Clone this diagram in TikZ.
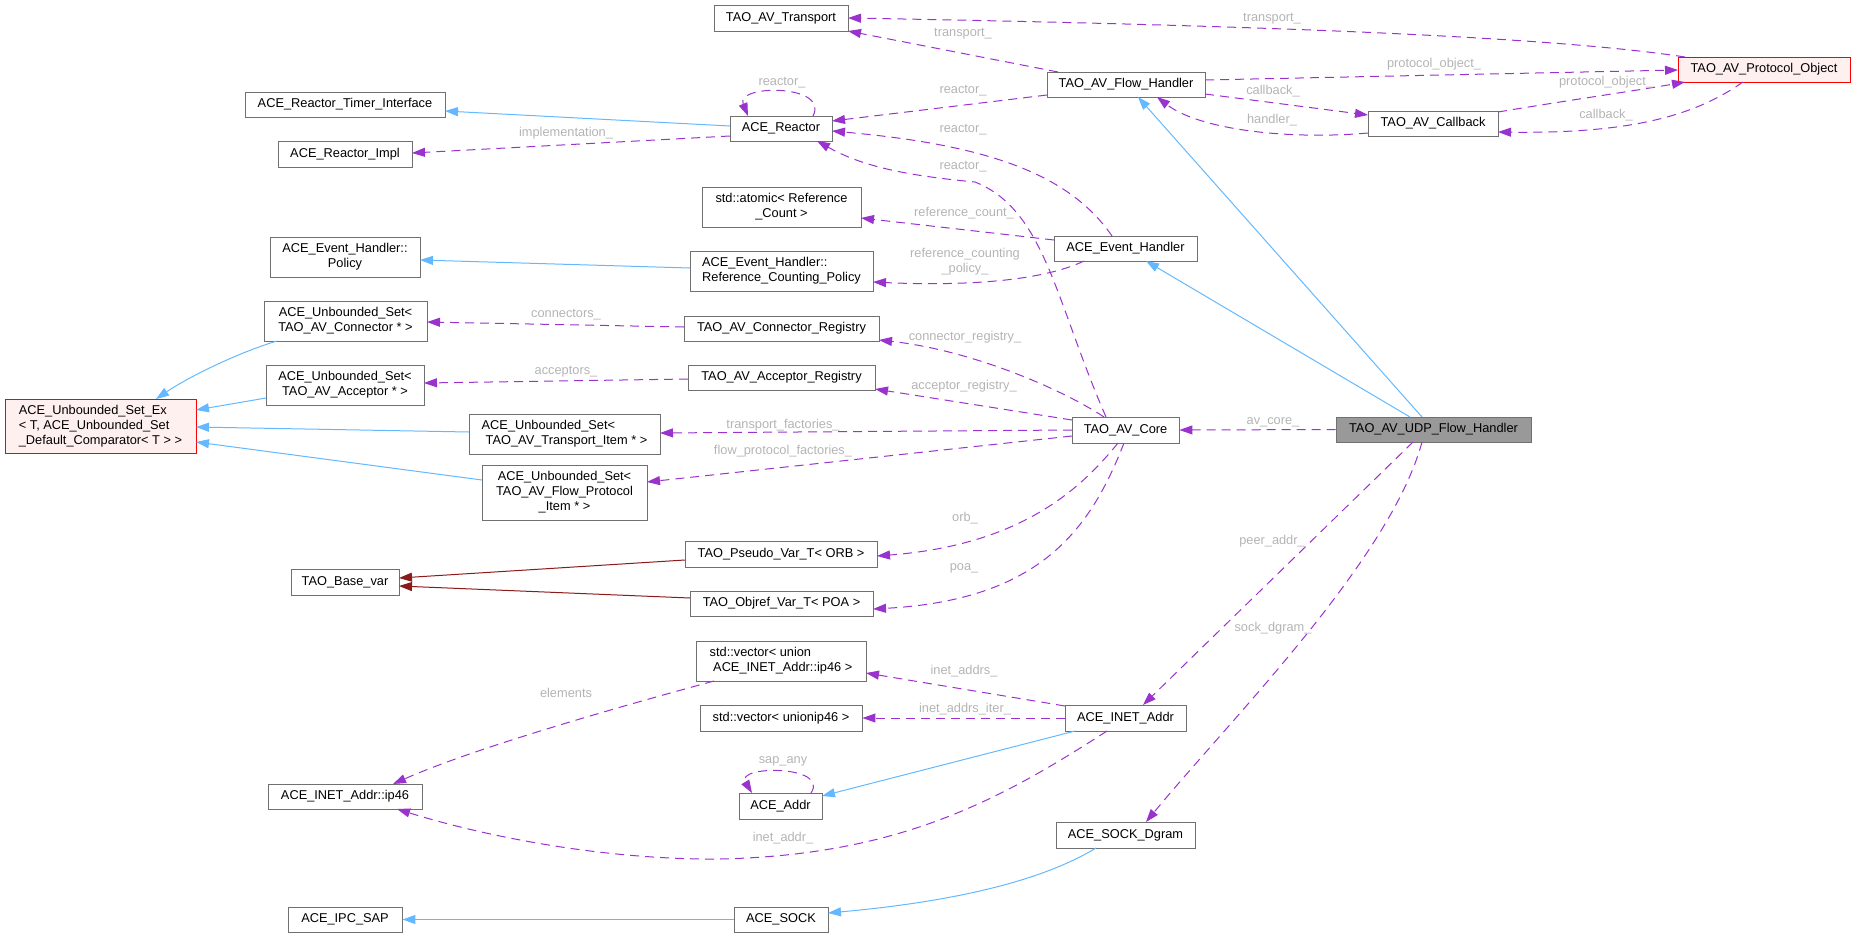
\documentclass[tikz,border=0pt]{standalone}
\usepackage{fontspec}
\setmainfont{Liberation Sans}
\usetikzlibrary{arrows.meta,calc}
\definecolor{eblue}{HTML}{63B8FF}
\definecolor{epurple}{HTML}{9A32CD}
\definecolor{ered}{HTML}{8B1A1A}
\definecolor{lgray}{HTML}{B4B4B4}
\definecolor{bgray}{HTML}{707070}
\definecolor{rfill}{HTML}{FFF0F0}
\definecolor{ufill}{HTML}{999999}
\begin{document}
\begin{tikzpicture}[x=1pt,y=-1pt,
  box/.style={draw=bgray, fill=white, line width=0.9pt, inner sep=0pt, font=\fontsize{12.8}{15}\selectfont, align=center},
  redbox/.style={box, draw=red, fill=rfill},
  lbl/.style={text=lgray, inner sep=0pt, font=\fontsize{12.8}{15}\selectfont, align=center},
  tipp/.style={-{Triangle[length=13pt,width=9pt]}},
  inh/.style={draw=eblue, line width=1pt, tipp},
  use/.style={draw=epurple, line width=1pt, dash pattern=on 9pt off 6pt, tipp},
  tmpl/.style={draw=ered, line width=1pt, tipp}]
\useasboundingbox (0,0) rectangle (1855,937);
% nodes
\node[box, minimum width=134, minimum height=26] (transport) at (781,18) {TAO\_AV\_Transport};
\node[box, minimum width=200, minimum height=25] (rti) at (345,104.5) {ACE\_Reactor\_Timer\_Interface};
\node[box, minimum width=102, minimum height=25] (reactor) at (781,128.5) {ACE\_Reactor};
\node[box, minimum width=134, minimum height=26] (impl) at (345,154) {ACE\_Reactor\_Impl};
\node[box, minimum width=159, minimum height=40] (atomic) at (781.5,207) {std::atomic< Reference\\\_Count >};
\node[box, minimum width=150, minimum height=40] (policy) at (345,257) {ACE\_Event\_Handler::\\Policy};
\node[box, align=left, minimum width=183, minimum height=40] (rcp) at (781.5,271) {ACE\_Event\_Handler::\\Reference\_Counting\_Policy};
\node[box, minimum width=158, minimum height=25] (flow) at (1126,84.5) {TAO\_AV\_Flow\_Handler};
\node[box, minimum width=143, minimum height=25] (eh) at (1125.5,248.5) {ACE\_Event\_Handler};
\node[redbox, minimum width=172, minimum height=25] (proto) at (1764,69.5) {TAO\_AV\_Protocol\_Object};
\node[box, minimum width=130, minimum height=25] (callback) at (1433,123.5) {TAO\_AV\_Callback};
\node[box, minimum width=163, minimum height=40] (usconn) at (345.5,321) {ACE\_Unbounded\_Set<\\TAO\_AV\_Connector * >};
\node[box, minimum width=158, minimum height=40] (usacc) at (345,385) {ACE\_Unbounded\_Set<\\TAO\_AV\_Acceptor * >};
\node[redbox, align=left, minimum width=191, minimum height=54] (setex) at (100.5,426) {ACE\_Unbounded\_Set\_Ex\\< T, ACE\_Unbounded\_Set\\\_Default\_Comparator< T > >};
\node[box, align=left, minimum width=191, minimum height=40] (ustrans) at (564.5,434) {ACE\_Unbounded\_Set<\\\hspace*{4pt}TAO\_AV\_Transport\_Item * >};
\node[box, minimum width=165, minimum height=55] (usflow) at (564.5,492.5) {ACE\_Unbounded\_Set<\\TAO\_AV\_Flow\_Protocol\\\_Item * >};
\node[box, minimum width=108, minimum height=26] (basevar) at (345,582) {TAO\_Base\_var};
\node[box, minimum width=195, minimum height=25] (connreg) at (781.5,328.5) {TAO\_AV\_Connector\_Registry};
\node[box, minimum width=187, minimum height=25] (accreg) at (781.5,377.5) {TAO\_AV\_Acceptor\_Registry};
\node[box, minimum width=107, minimum height=26] (core) at (1125.5,430) {TAO\_AV\_Core};
\node[box, minimum width=192, minimum height=26] (pseudo) at (781,554) {TAO\_Pseudo\_Var\_T< ORB >};
\node[box, minimum width=183, minimum height=25] (objref) at (781.5,603.5) {TAO\_Objref\_Var\_T< POA >};
\node[box, fill=ufill, minimum width=195, minimum height=25] (udp) at (1433.5,429.5) {TAO\_AV\_UDP\_Flow\_Handler};
\node[box, minimum width=154, minimum height=25] (ip46) at (345,796.5) {ACE\_INET\_Addr::ip46};
\node[box, minimum width=114, minimum height=25] (ipcsap) at (345,919.5) {ACE\_IPC\_SAP};
\node[box, align=left, minimum width=170, minimum height=40] (vecu) at (781,661) {std::vector< union\\\hspace*{3.5pt}ACE\_INET\_Addr::ip46 >};
\node[box, minimum width=162, minimum height=26] (veci) at (781,718) {std::vector< unionip46 >};
\node[box, minimum width=121, minimum height=26] (inet) at (1125.5,718) {ACE\_INET\_Addr};
\node[box, minimum width=83, minimum height=26] (addr) at (780.5,806) {ACE\_Addr};
\node[box, minimum width=139, minimum height=26] (dgram) at (1125.5,835) {ACE\_SOCK\_Dgram};
\node[box, minimum width=94, minimum height=25] (sock) at (781,919.5) {ACE\_SOCK};
% edges
\draw[use] ($(flow.center)+(-68,-12.5)$) -- ($(transport.center)+(67,13)$);
\draw[use] ($(proto.center)+(-79,-12.5)$) .. controls (1560,38) and (1300,26) .. ($(transport.center)+(67,0)$);
\draw[use] ($(reactor.center)+(32,-12.5)$) .. controls (830,84) and (735,84) .. ($(reactor.center)+(-33,-12.5)$);
\draw[use] ($(flow.center)+(-79,10.5)$) -- ($(reactor.center)+(51,-7.5)$);
\draw[use] ($(eh.center)+(-13.5,-12.5)$) .. controls (1070,175) and (990,145) .. ($(reactor.center)+(51,2.5)$);
\draw[use] ($(core.center)+(-19.5,-13)$) .. controls (1055,300) and (1045,210) .. (975,182) .. controls (900,175) and (860,165) .. ($(reactor.center)+(36,12.5)$);
\draw[inh] ($(reactor.center)+(-51,-2.5)$) -- ($(rti.center)+(100,6.5)$);
\draw[use] ($(reactor.center)+(-51,7.5)$) -- ($(impl.center)+(67,-1)$);
\draw[use] ($(flow.center)+(79,-4.5)$) -- ($(proto.center)+(-86,0.5)$);
\draw[use] ($(flow.center)+(79,9.5)$) -- ($(callback.center)+(-65,-8.5)$);
\draw[use] ($(callback.center)+(-65,9.5)$) .. controls (1290,140) and (1200,130) .. ($(flow.center)+(31,12.5)$);
\draw[use] ($(callback.center)+(65,-11.5)$) .. controls (1570,100) and (1640,90) .. ($(proto.center)+(-79,12.5)$);
\draw[use] ($(proto.center)+(-21,12.5)$) .. controls (1700,112) and (1640,134) .. ($(callback.center)+(65,8.5)$);
\draw[inh] ($(udp.center)+(-11.5,-12.5)$) -- ($(flow.center)+(12,12.5)$);
\draw[inh] ($(udp.center)+(-23.5,-12.5)$) -- ($(eh.center)+(20.5,12.5)$);
\draw[use] ($(eh.center)+(-71.5,-8.5)$) -- ($(atomic.center)+(79.5,11)$);
\draw[use] ($(eh.center)+(-41.5,12.5)$) .. controls (1040,282) and (960,286) .. ($(rcp.center)+(91.5,11)$);
\draw[inh] ($(rcp.center)+(-91.5,-3)$) -- ($(policy.center)+(75,3)$);
\draw[use] ($(connreg.center)+(-97.5,-1.5)$) -- ($(usconn.center)+(81.5,1)$);
\draw[use] ($(accreg.center)+(-93.5,1.5)$) -- ($(usacc.center)+(79,-2)$);
\draw[inh] ($(usconn.center)+(-68.5,20)$) .. controls (240,352) and (190,376) .. ($(setex.center)+(55.5,-27)$);
\draw[inh] ($(usacc.center)+(-79,13)$) -- ($(setex.center)+(95.5,-16)$);
\draw[inh] ($(ustrans.center)+(-95.5,-2)$) -- ($(setex.center)+(95.5,1)$);
\draw[inh] ($(usflow.center)+(-82.5,-12.5)$) -- ($(setex.center)+(95.5,16)$);
\draw[use] ($(core.center)+(-21.5,-13)$) .. controls (1060,388) and (970,350) .. ($(connreg.center)+(97.5,11.5)$);
\draw[use] ($(core.center)+(-53.5,-10)$) -- ($(accreg.center)+(93.5,11.5)$);
\draw[use] ($(core.center)+(-53.5,0)$) -- ($(ustrans.center)+(95.5,-1)$);
\draw[use] ($(core.center)+(-53.5,6)$) -- ($(usflow.center)+(82.5,-10.5)$);
\draw[use] ($(core.center)+(-7.5,13)$) .. controls (1080,490) and (1020,545) .. ($(pseudo.center)+(96,2)$);
\draw[use] ($(core.center)+(-1.5,13)$) .. controls (1090,530) and (1040,600) .. ($(objref.center)+(91.5,5.5)$);
\draw[tmpl] ($(pseudo.center)+(-96,6)$) -- ($(basevar.center)+(54,-4)$);
\draw[tmpl] ($(objref.center)+(-91.5,-5.5)$) -- ($(basevar.center)+(54,4)$);
\draw[use] (udp.west) -- (core.east);
\draw[use] ($(udp.center)+(-20.5,12.5)$) -- ($(inet.center)+(17.5,-13)$);
\draw[use] ($(udp.center)+(-11.5,12.5)$) .. controls (1390,560) and (1230,720) .. ($(dgram.center)+(20.5,-13)$);
\draw[use] ($(inet.center)+(-60.5,-12)$) -- ($(vecu.center)+(85,12)$);
\draw[use] (inet.west) -- (veci.east);
\draw[use] ($(vecu.center)+(-67,20)$) .. controls (600,712) and (470,750) .. ($(ip46.center)+(48,-12.5)$);
\draw[use] ($(inet.center)+(-18.5,13)$) .. controls (1000,800) and (900,855) .. (720,859) .. controls (600,860) and (480,835) .. ($(ip46.center)+(52,12.5)$);
\draw[use] ($(addr.center)+(30.5,-13)$) .. controls (830,765) and (735,765) .. ($(addr.center)+(-28.5,-13)$);
\draw[inh] ($(inet.center)+(-50.5,13)$) -- ($(addr.center)+(41.5,-10)$);
\draw[inh] ($(dgram.center)+(-29.5,13)$) .. controls (1040,882) and (950,902) .. ($(sock.center)+(47,-6.5)$);
\draw[inh] (sock.west) -- (ipcsap.east);
% labels
\node[lbl] (l1) at (963,34) {transport\_};
\node[lbl] (l2) at (1272,19) {transport\_};
\node[lbl] (l3) at (782,83) {reactor\_};
\node[lbl] (l4) at (963,91) {reactor\_};
\node[lbl] (l5) at (963,130) {reactor\_};
\node[lbl] (l6) at (963,167) {reactor\_};
\node[lbl] (l7) at (566,133) {implementation\_};
\node[lbl] (l8) at (1434,64) {protocol\_object\_};
\node[lbl] (l9) at (1273,91) {callback\_};
\node[lbl] (l10) at (1272,120) {handler\_};
\node[lbl] (l11) at (1606,82) {protocol\_object\_};
\node[lbl] (l12) at (1606,115) {callback\_};
\node[lbl] (l13) at (964,213) {reference\_count\_};
\node[lbl] (l14) at (965,262) {reference\_counting\\\_policy\_};
\node[lbl] (l15) at (566,315) {connectors\_};
\node[lbl] (l16) at (566,372) {acceptors\_};
\node[lbl] (l17) at (965,337) {connector\_registry\_};
\node[lbl] (l18) at (964,386) {acceptor\_registry\_};
\node[lbl] (l19) at (783,425) {transport\_factories\_};
\node[lbl] (l20) at (783,451) {flow\_protocol\_factories\_};
\node[lbl] (l21) at (965,518) {orb\_};
\node[lbl] (l22) at (964,568) {poa\_};
\node[lbl] (l23) at (1273,422) {av\_core\_};
\node[lbl] (l24) at (1272,541) {peer\_addr\_};
\node[lbl] (l25) at (1273,628) {sock\_dgram\_};
\node[lbl] (l26) at (964,671) {inet\_addrs\_};
\node[lbl] (l27) at (965,709) {inet\_addrs\_iter\_};
\node[lbl] (l28) at (566,693) {elements};
\node[lbl] (l29) at (783,838) {inet\_addr\_};
\node[lbl] (l30) at (783,761) {sap\_any};
\end{tikzpicture}
\end{document}
